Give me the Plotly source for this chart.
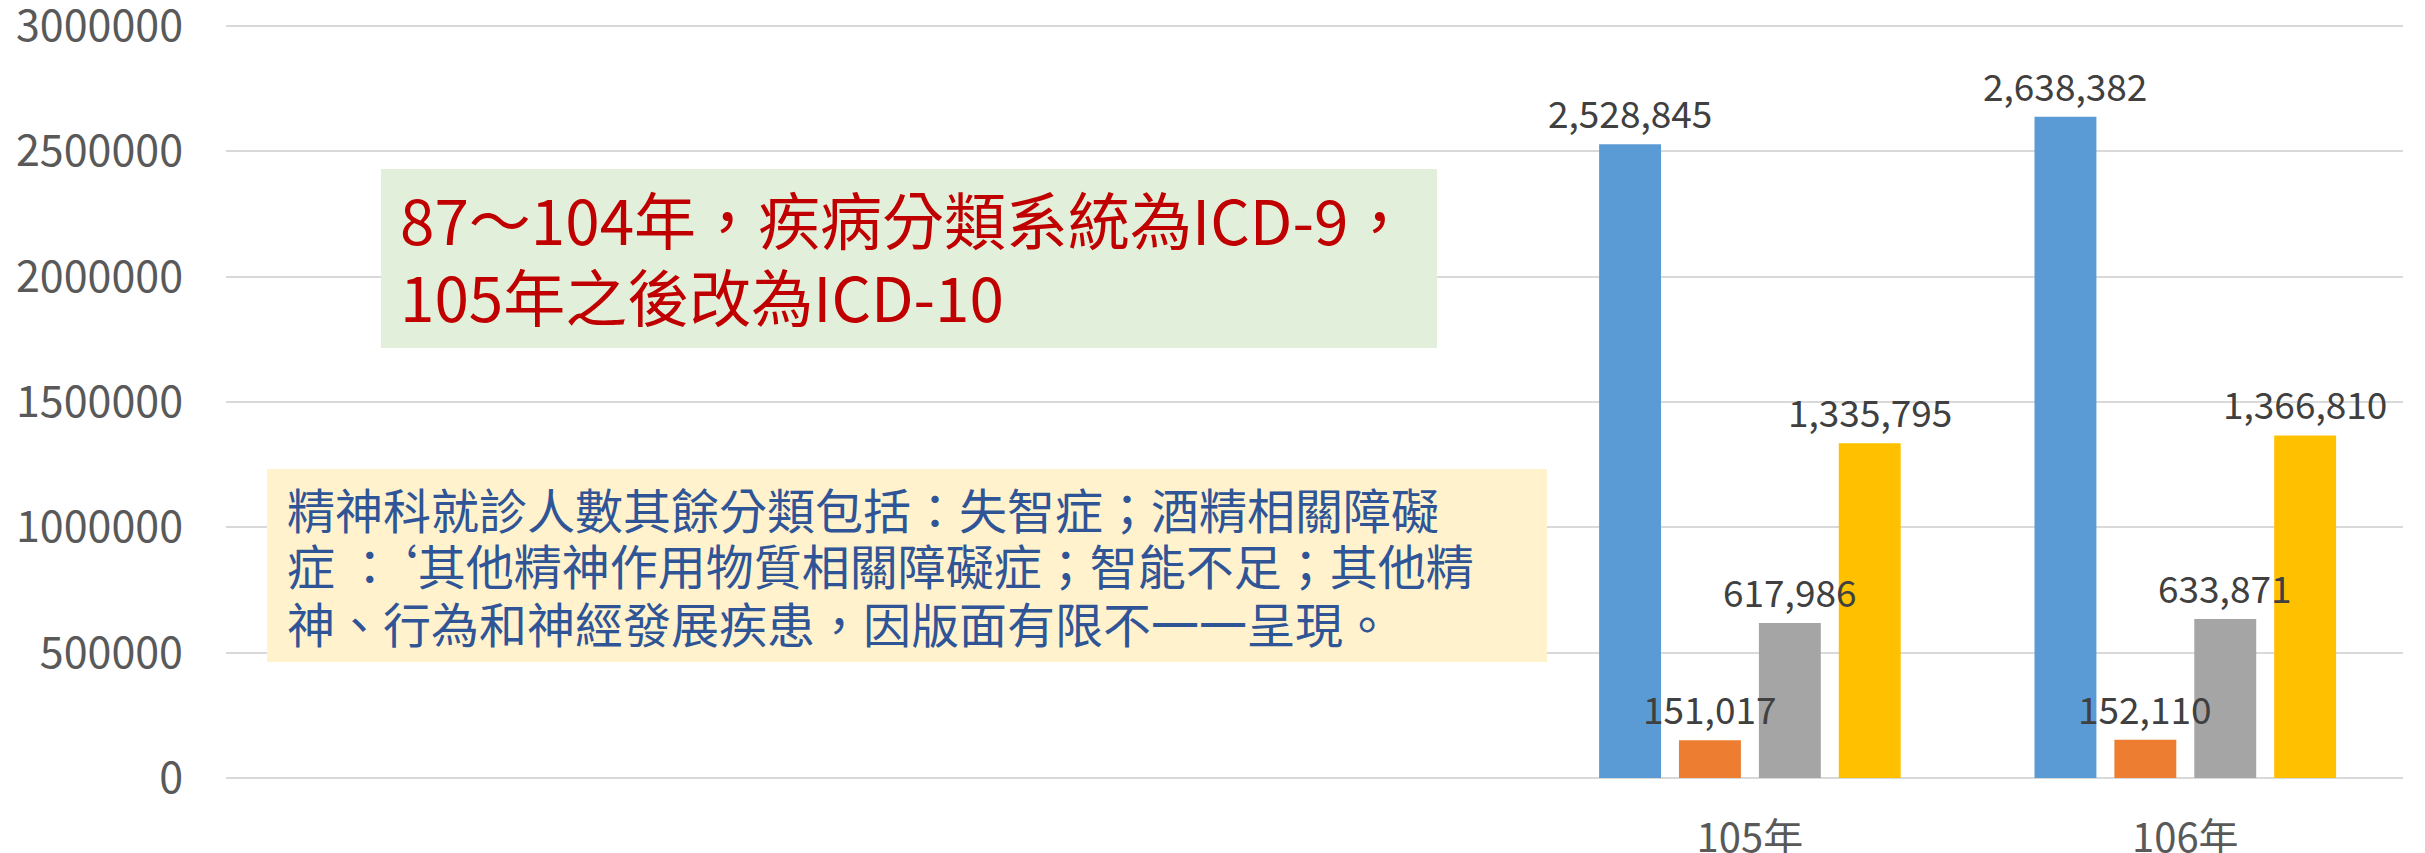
import plotly.graph_objects as go

# ---- data ----
categories = [" ", "  ", "   ", "105年", "106年"]   # first three slots are empty in the original
years = ["105年", "106年"]
series_a = [2528845, 2638382]   # blue
series_b = [151017, 152110]     # orange
series_c = [617986, 633871]     # gray
series_d = [1335795, 1366810]   # yellow
series_list = [series_a, series_b, series_c, series_d]
series_names = ["類別一", "類別二", "類別三", "類別四"]
colors = ["#5B9BD5", "#ED7D31", "#A5A5A5", "#FFC000"]
y_top = 3060000
y_step = 500000

note_title = ["87～104年，疾病分類系統為ICD-9，", "105年之後改為ICD-10"]
note_body = [
    "精神科就診人數其餘分類包括：失智症；酒精相關障礙",
    "症 ：‘其他精神作用物質相關障礙症；智能不足；其他精",
    "神、行為和神經發展疾患，因版面有限不一一呈現。",
]

W, H = 2425, 853
ML, MR, MT, MB = 226, 22, 11, 75
PW, PH = W - ML - MR, H - MT - MB
BARGAP = 0.266
BARGROUPGAP = 0.225
CJK = "Noto Sans CJK TC"


def px(x):
    return (x - ML) / PW


def py(y):
    return (H - MB - y) / PH


fig = go.Figure()
for name, vals, col in zip(series_names, series_list, colors):
    fig.add_trace(go.Bar(x=years, y=vals, name=name, marker_color=col,
                         marker_line_width=0, showlegend=False, hoverinfo="skip"))

annotations = []
n = len(series_list)
slot = (1 - BARGAP) / n
for j, vals in enumerate(series_list):
    for yr, v in zip(years, vals):
        idx = categories.index(yr)
        annotations.append(dict(
            x=idx + (j - (n - 1) / 2) * slot, y=v, xref="x", yref="y",
            text=f"{v:,}", showarrow=False, xanchor="center", yanchor="bottom",
            yshift=3, font=dict(family=CJK, size=37, color="#404040")))

shapes = [
    dict(type="rect", xref="paper", yref="paper", x0=px(381), x1=px(1437),
         y0=py(348), y1=py(169), fillcolor="#E2EFDA", line_width=0, layer="above"),
    dict(type="rect", xref="paper", yref="paper", x0=px(267), x1=px(1547),
         y0=py(662), y1=py(469), fillcolor="#FFF2CC", line_width=0, layer="above"),
]

for line, cy in zip(note_title, [218, 295]):
    annotations.append(dict(x=px(398), y=py(cy), xref="paper", yref="paper",
                            text=line, showarrow=False, xanchor="left", yanchor="middle",
                            font=dict(family=CJK, size=62, color="#C00000")))
for line, cy in zip(note_body, [508, 564, 622]):
    annotations.append(dict(x=px(285), y=py(cy), xref="paper", yref="paper",
                            text=line, showarrow=False, xanchor="left", yanchor="middle",
                            font=dict(family=CJK, size=48, color="#2F5597")))

fig.update_layout(
    width=W, height=H,
    margin=dict(l=ML, r=MR, t=MT, b=MB, pad=0, autoexpand=False),
    paper_bgcolor="white", plot_bgcolor="white",
    barmode="group", bargap=BARGAP, bargroupgap=BARGROUPGAP,
    font=dict(family=CJK, color="#595959"),
    shapes=shapes, annotations=annotations,
    xaxis=dict(type="category", categoryorder="array", categoryarray=categories,
               range=[-0.5, len(categories) - 0.5], showgrid=False, showline=False,
               zeroline=False, ticks="", ticklabelstandoff=33, automargin=False,
               ticklabeloverflow="allow",
               tickfont=dict(family=CJK, size=40, color="#595959")),
    yaxis=dict(range=[0, y_top], dtick=y_step, tick0=0, tickformat="d",
               showgrid=True, gridcolor="#D9D9D9", gridwidth=2,
               zeroline=True, zerolinecolor="#D9D9D9", zerolinewidth=2,
               showline=False, ticks="", ticklabelstandoff=42, automargin=False,
               ticklabeloverflow="allow",
               tickfont=dict(family=CJK, size=43, color="#595959")),
)

fig.write_html("out.html", config={"displayModeBar": False},
               post_script="document.body.style.margin='0';document.body.style.overflow='hidden';")
